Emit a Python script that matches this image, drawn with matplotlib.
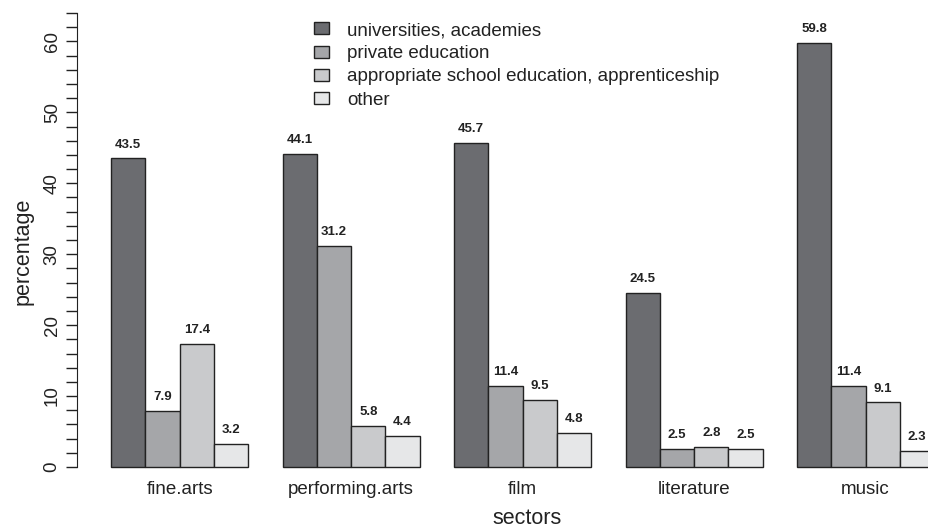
import matplotlib.pyplot as plt
import numpy as np

plt.rcParams['font.family'] = ['Liberation Sans', 'DejaVu Sans']

sectors = ['fine.arts', 'performing.arts', 'film', 'literature', 'music']
series = ['universities, academies', 'private education',
          'appropriate school education, apprenticeship', 'other']
universities = [43.5, 44.1, 45.7, 24.5, 59.8]
private = [7.9, 31.2, 11.4, 2.5, 11.4]
school = [17.4, 5.8, 9.5, 2.8, 9.1]
other = [3.2, 4.4, 4.8, 2.5, 2.3]
colors = ['#6b6c70', '#a5a6a9', '#c9cacc', '#e6e7e8']

W, H = 929, 528
fig = plt.figure(figsize=(W / 100, H / 100), dpi=100)
# axes placed in pixel terms, R-barplot style (space=c(0,1))
x0 = 76.7
unit = 34.3
right_units = (W - x0) / unit
ax = fig.add_axes([x0 / W, 1 - 467 / H, 1 - x0 / W, (467 - 13) / H])
ax.set_xlim(0, right_units)
ax.set_ylim(0, 64)

values = [universities, private, school, other]
for k, (vals, col, lab) in enumerate(zip(values, colors, series)):
    xs = [1 + g * 5 + k + 0.5 for g in range(len(sectors))]
    ax.bar(xs, vals, width=1.0, color=col, edgecolor='#222222',
           linewidth=1.0, label=lab, clip_on=False)
    for x, v in zip(xs, vals):
        ax.annotate(f'{v:.1f}', (x, v), xytext=(0, 10), textcoords='offset points',
                    ha='center', va='center', fontsize=9.5, fontweight='bold',
                    color='#222222', annotation_clip=False)

for g, name in enumerate(sectors):
    ax.text(1 + g * 5 + 2, -3.2, name, ha='center', va='center', fontsize=13.5,
            color='#222222')

for s in ['top', 'right', 'bottom']:
    ax.spines[s].set_visible(False)
ax.spines['left'].set_bounds(0, 64)
ax.spines['left'].set_color('#222222')
ax.set_xticks([])
ax.set_yticks(np.arange(0, 61, 10))
ax.set_yticks(np.arange(0, 65, 2), minor=True)
ax.tick_params(axis='y', which='both', length=8, width=1, color='#222222')
ax.tick_params(axis='y', which='major', labelsize=13.5, labelcolor='#222222',
               pad=3.5, labelrotation=90)
for t in ax.get_yticklabels():
    t.set_va('center')

fig.text(23 / W, 1 - 251 / H, 'percentage', rotation=90, ha='center', va='center',
         fontsize=15.5, color='#222222')
fig.text(527 / W, 1 - 519 / H, 'sectors', ha='center', va='center',
         fontsize=15.5, color='#222222')

fig.legend(loc='upper left', bbox_to_anchor=(314 / W, 1 - 22 / H), frameon=False,
           fontsize=13.5, handlelength=0.8, handleheight=0.6, handletextpad=0.95,
           labelspacing=0.33, borderpad=0, borderaxespad=0, labelcolor='#222222')

fig.savefig('out.png', dpi=100)
